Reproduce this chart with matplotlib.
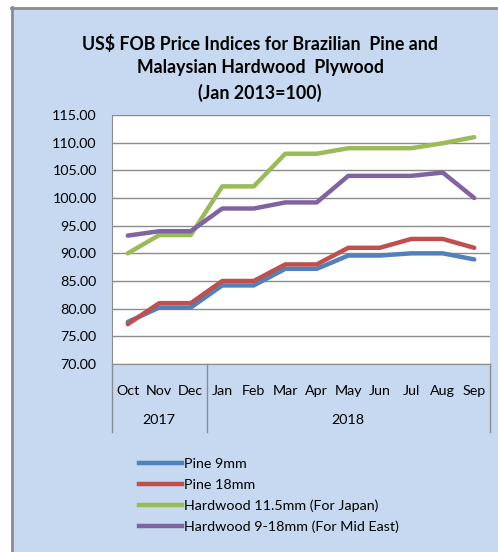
import matplotlib.pyplot as plt
from matplotlib.patches import Rectangle
from matplotlib.lines import Line2D
import matplotlib.transforms as mtransforms

plt.rcParams['font.family'] = ['Lato', 'DejaVu Sans']

months = ["Oct", "Nov", "Dec", "Jan", "Feb", "Mar", "Apr", "May", "Jun", "Jul", "Aug", "Sep"]
years = ["2017", "2018"]
year_spans = [(0, 2), (3, 11)]

pine_9 = [77.6, 80.2, 80.2, 84.2, 84.2, 87.2, 87.2, 89.6, 89.6, 90.0, 90.0, 88.9]
pine_18 = [77.2, 81.0, 81.0, 85.0, 85.0, 88.0, 88.0, 91.0, 91.0, 92.6, 92.6, 91.0]
hw_japan = [90.0, 93.3, 93.3, 102.1, 102.1, 108.0, 108.0, 109.0, 109.0, 109.0, 109.9, 111.0]
hw_mideast = [93.2, 94.0, 94.0, 98.1, 98.1, 99.2, 99.2, 104.0, 104.0, 104.0, 104.6, 100.0]

series = [
    ("Pine 9mm", pine_9, "#4f81bd"),
    ("Pine 18mm", pine_18, "#c0504d"),
    ("Hardwood 11.5mm (For Japan)", hw_japan, "#9bbb59"),
    ("Hardwood 9-18mm (For Mid East)", hw_mideast, "#8064a2"),
]

W, H = 498, 552
fig = plt.figure(figsize=(W / 100, H / 100), dpi=100)
fig.patch.set_facecolor("white")

# chart area background with grey border on left/top
bg = "#c6d9f0"
fig.patches.append(Rectangle((11 / W, 0), 1, 1 - 7 / H, transform=fig.transFigure,
                             facecolor=bg, edgecolor="none", zorder=-10))
fig.lines.append(Line2D([11.5 / W, 11.5 / W], [0, 1 - 7 / H], transform=fig.transFigure,
                        color="#8c8c8c", lw=2, zorder=-5))
fig.lines.append(Line2D([11 / W, 1], [1 - 7.5 / H, 1 - 7.5 / H], transform=fig.transFigure,
                        color="#8c8c8c", lw=2, zorder=-5))

fig.text(260 / W, 1 - 44 / H, "US$ FOB Price Indices for Brazilian  Pine and",
         ha="center", va="center", fontsize=12.8, fontweight="bold")
fig.text(260 / W, 1 - 68 / H, "Malaysian Hardwood  Plywood",
         ha="center", va="center", fontsize=12.8, fontweight="bold")
fig.text(260 / W, 1 - 93 / H, "(Jan 2013=100)",
         ha="center", va="center", fontsize=12.8, fontweight="bold")

ax = fig.add_axes([112 / W, 1 - 364 / H, (490 - 112) / W, (364 - 115) / H])
ax.set_facecolor("white")

x = list(range(len(months)))
for name, vals, col in series:
    ax.plot(x, vals, color=col, lw=3.2, label=name, solid_capstyle="round")

ax.set_xlim(-0.5, 11.5)
ax.set_ylim(70, 115)
ax.set_yticks(range(70, 116, 5))
ax.set_yticklabels([f"{v:.2f}" for v in range(70, 116, 5)], fontsize=10.3)
ax.yaxis.grid(True, color="#8c8c8c", lw=1)
ax.set_axisbelow(True)
ax.tick_params(axis="y", length=0, pad=11)
ax.set_xticks(x)
ax.set_xticklabels(months, fontsize=10.3)
ax.tick_params(axis="x", length=0, pad=15)
for s in ["top", "right"]:
    ax.spines[s].set_visible(False)
ax.spines["left"].set_color("#8c8c8c")
ax.spines["bottom"].set_color("#8c8c8c")

# year grouping
trans = mtransforms.blended_transform_factory(ax.transData, ax.transAxes)
depth = (432 - 364) / (364 - 115)
for xs in [-0.5, 2.5, 11.5]:
    ax.plot([xs, xs], [0, -depth], transform=trans, color="#8c8c8c", lw=1, clip_on=False)
for yr, (a, b) in zip(years, year_spans):
    ax.text((a + b) / 2, -(420 - 364) / (364 - 115), yr, transform=trans,
            ha="center", va="center", fontsize=10.3)

handles = [Line2D([], [], color=c, lw=3.2) for _, _, c in series]
fig.legend(handles, [n for n, _, _ in series], loc="upper left",
           bbox_to_anchor=(133 / W, 1 - 452 / H), frameon=False, fontsize=10.3,
           handlelength=3.0, handletextpad=0.2, labelspacing=0.62, borderaxespad=0)

fig.savefig("out.png", dpi=100, facecolor=fig.get_facecolor())
